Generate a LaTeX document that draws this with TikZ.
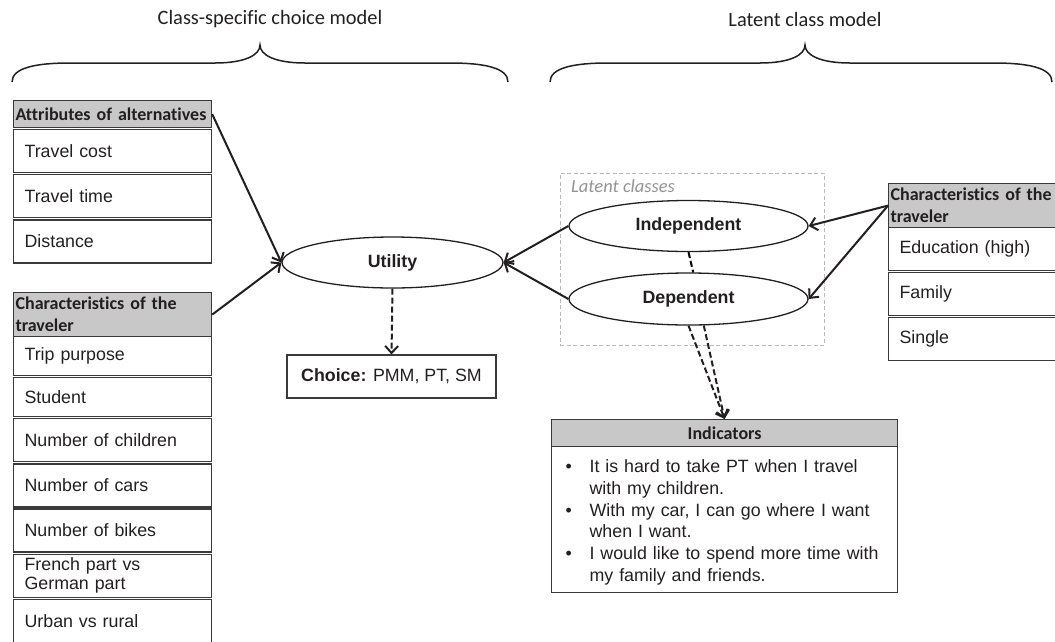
\documentclass[tikz,border=0pt]{standalone}
\usepackage{fontspec}
\setmainfont{Liberation Sans}
\newfontfamily\calibri[Ligatures=NoCommon]{Carlito}
\usetikzlibrary{arrows.meta,calc,positioning,shapes.geometric}
\definecolor{hdrgray}{HTML}{C8C8C8}
\definecolor{linegray}{HTML}{3A3A3A}
\definecolor{inkgray}{HTML}{231F20}
\newcommand{\bodysize}{\fontsize{17.8}{20}\selectfont}
% curly brace over a model part: left x, tip x, right x
\newcommand{\drawbrace}[3]{%
  \draw[brace] (#1,82) .. controls (#1,68) and ({#1+23},63) .. ({#1+58},63)
    -- ({#2-45},63) .. controls ({#2-15},63) and (#2,55) .. (#2,45)
    .. controls (#2,55) and ({#2+15},63) .. ({#2+45},63)
    -- ({#3-58},63) .. controls ({#3-23},63) and (#3,68) .. (#3,82);}

\begin{document}
\begin{tikzpicture}[
    x=1pt, y=-1pt,
    node distance=0.9pt,
    every node/.style={text=inkgray},
    hdr/.style={draw=linegray, line width=1.2pt, fill=hdrgray,
                text width=194pt, inner xsep=2pt, inner ysep=1pt, align=left,
                font=\calibri\bfseries\fontsize{18}{22}\selectfont},
    item/.style={draw=linegray, line width=1.2pt, text width=176pt,
                 inner xsep=11pt, inner ysep=1pt, minimum height=43pt,
                 align=left, font=\bodysize},
    latent/.style={draw=inkgray, line width=1.3pt, ellipse,
                   minimum width=239pt, minimum height=51pt,
                   font=\bodysize\bfseries},
    arrow/.style={-{Straight Barb[length=7pt,width=13pt]}, line width=2pt,
                  draw=inkgray},
    dasharrow/.style={arrow, dash pattern=on 6pt off 3pt},
    brace/.style={line width=1.5pt, draw=inkgray},
]
\useasboundingbox (0,0) rectangle (1055,641);

% Titles and braces
\node[font=\calibri\fontsize{20.4}{24}\selectfont] (csm) at (270,19)
     {Class-specific choice model};
\node[font=\calibri\fontsize{20.4}{24}\selectfont] (lcm) at (805,19)
     {Latent class model};
\drawbrace{12}{260}{508}
\drawbrace{550}{805}{1052}

% Attributes of alternatives
\node[hdr, anchor=north west, minimum height=27pt] (attr) at (13,100)
     {Attributes of alternatives};
\node[item, below=of attr] (cost) {Travel cost};
\node[item, below=of cost] (time) {Travel time};
\node[item, below=of time] (dist) {Distance};

% Characteristics of the traveler (choice model)
\node[hdr, anchor=north west, minimum height=44pt] (lchar) at (13,292)
     {Characteristics of the\\traveler};
\node[item, minimum height=39pt, below=-1.2pt of lchar] (trip) {Trip purpose};
\node[item, minimum height=39pt, below=of trip] (stud) {Student};
\node[item, below=of stud] (kids) {Number of children};
\node[item, below=of kids] (cars) {Number of cars};
\node[item, below=of cars] (bikes) {Number of bikes};
\node[item, below=of bikes, font=\fontsize{17.8}{19.5}\selectfont] (lang)
     {French part vs\\German part};
\node[item, below=of lang] (urban) {Urban vs rural};

% Utility and choice
\node[latent, minimum width=221pt] (util) at (392.5,262.5) {Utility};
\node[draw=linegray, line width=1.2pt, minimum width=209pt,
      minimum height=43pt, font=\bodysize] (choice) at (391.5,376.5)
     {\textbf{Choice:} PMM, PT, SM};

% Latent classes
\node[draw=gray!55, line width=1pt, dash pattern=on 4pt off 2.5pt,
      minimum width=264pt, minimum height=172pt, inner sep=0pt] (lbox)
      at (692,259) {};
\node[anchor=west, inner sep=0pt, text=gray!85,
      font=\calibri\itshape\fontsize{18.5}{22}\selectfont] (lbl) at (571,186)
     {Latent classes};
\node[latent] (indep) at (688.5,226) {Independent};
\node[latent, minimum height=52pt] (dep) at (688.5,299) {Dependent};

% Characteristics of the traveler (class model)
\node[hdr, anchor=north west, minimum height=44pt] (rchar) at (888,183)
     {Characteristics of the\\traveler};
\node[item, below=-1.2pt of rchar] (edu) {Education (high)};
\node[item, below=of edu] (fam) {Family};
\node[item, below=of fam] (single) {Single};

% Indicators
\node[hdr, anchor=north west, text width=342pt, minimum height=27pt,
      align=center] (indhdr) at (551,419) {Indicators};
\node[draw=linegray, line width=1.2pt, below=-1.2pt of indhdr,
      text width=318pt, inner xsep=14pt, inner ysep=0pt, minimum height=146pt,
      align=left, font=\fontsize{17.8}{21.7}\selectfont] (indbody)
     {\begin{tabular}{@{}p{24pt}@{}l@{}}
      \rule{0pt}{21pt}\textbullet & It is hard to take PT when I travel\\
                  & with my children.\\
      \textbullet & With my car, I can go where I want\\
                  & when I want.\\
      \textbullet & I would like to spend more time with\\
                  & my family and friends.
      \end{tabular}};

% Arrows
\draw[arrow] (attr.east) -- (util.west);
\draw[arrow] (lchar.east) -- (util.west);
\draw[arrow] (indep.west) -- (util.east);
\draw[arrow] (dep.west) -- (util.east);
\draw[arrow] (rchar.west) -- (indep.east);
\draw[arrow] (rchar.west) -- (dep.east);
\draw[dasharrow] (util.south) -- (choice.north);
\draw[line width=2pt, dash pattern=on 6pt off 3pt] (indep.south) -- (dep.80);
\draw[dasharrow] (dep.south) -- (indhdr.north);
\draw[dasharrow] (dep.-60) -- (indhdr.north);
\end{tikzpicture}
\end{document}
